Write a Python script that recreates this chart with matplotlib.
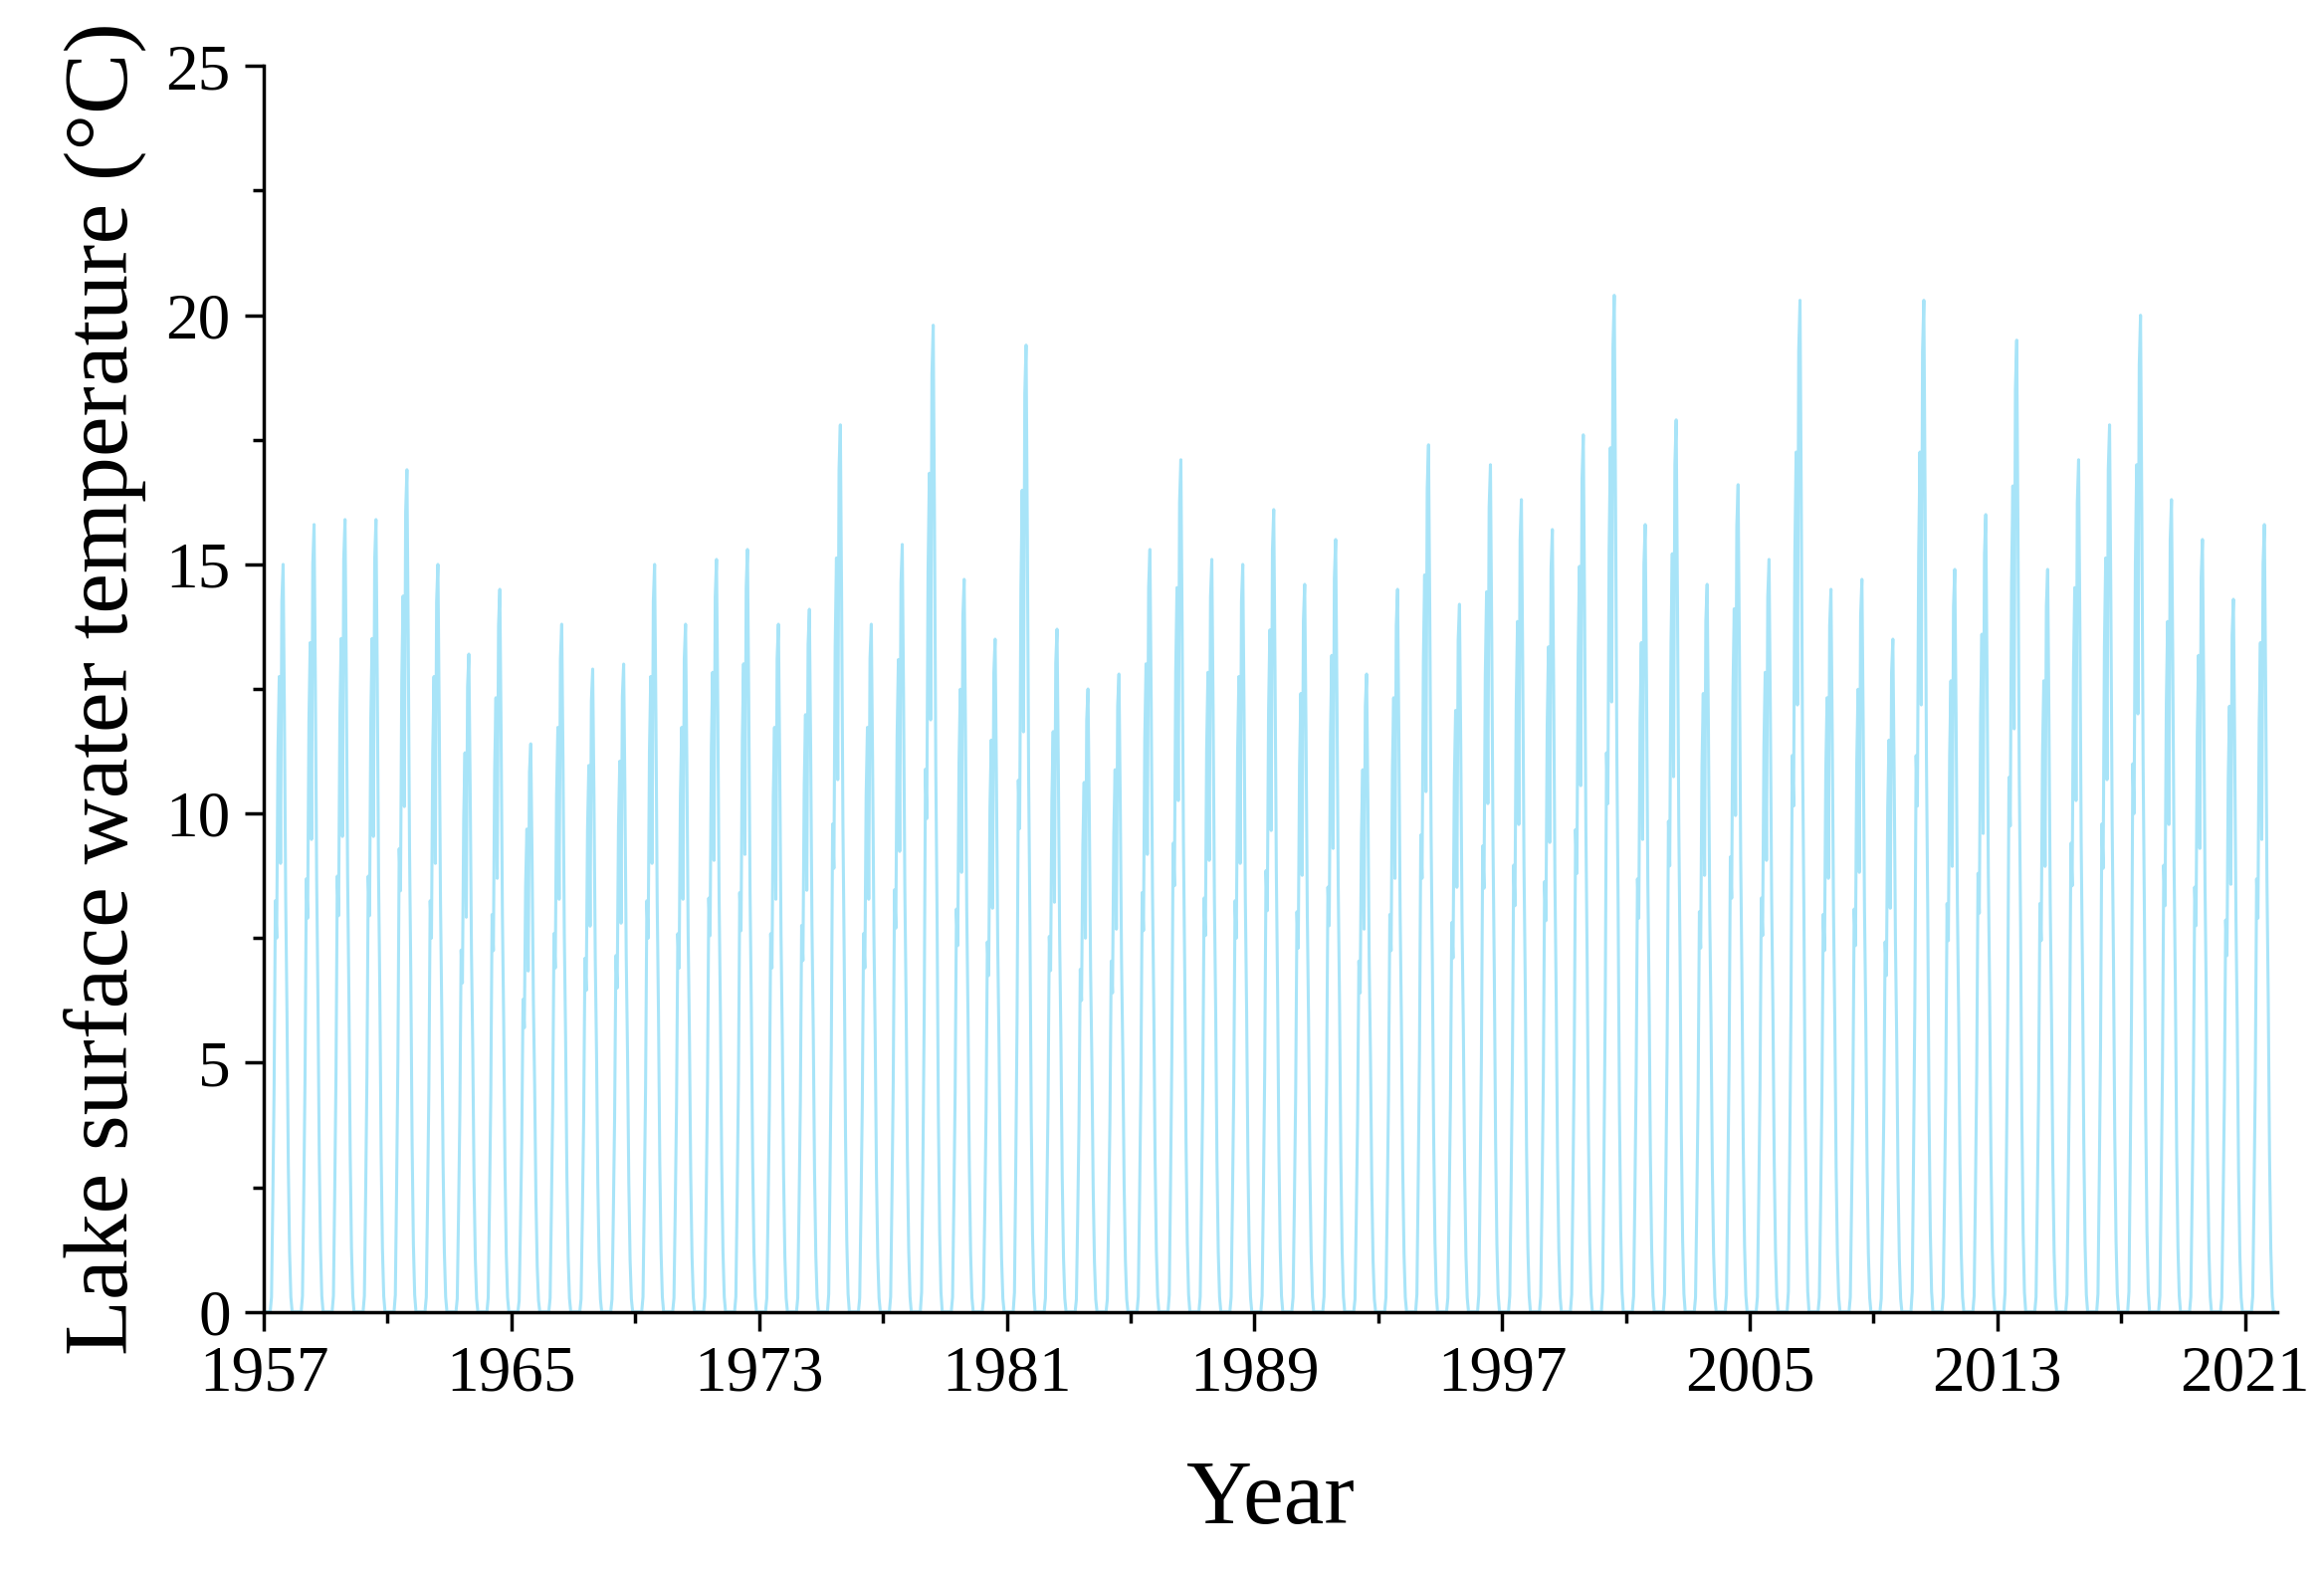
import matplotlib
matplotlib.use("Agg")
import matplotlib.pyplot as plt
from matplotlib.ticker import MultipleLocator, FixedLocator

years = list(range(1957, 2022))
annual_peak = [15.0, 15.8, 15.9, 15.9, 16.9, 15.0, 13.2, 14.5, 11.4, 13.8,
               12.9, 13.0, 15.0, 13.8, 15.1, 15.3, 13.8, 14.1, 17.8, 13.8,
               15.4, 19.8, 14.7, 13.5, 19.4, 13.7, 12.5, 12.8, 15.3, 17.1,
               15.1, 15.0, 16.1, 14.6, 15.5, 12.8, 14.5, 17.4, 14.2, 17.0,
               16.3, 15.7, 17.6, 20.4, 15.8, 17.9, 14.6, 16.6, 15.1, 20.3,
               14.5, 14.7, 13.5, 20.3, 14.9, 16.0, 19.5, 14.9, 17.1, 17.8,
               20.0, 16.3, 15.5, 14.3, 15.8]
# typical within-year fraction of the annual peak (twice-monthly samples)
season_shape = [0, 0, 0, 0, 0, 0, 0.02, 0.15, 0.3, 0.55, 0.5, 0.75,
                0.85, 0.6, 0.95, 1.0, 0.8, 0.55, 0.4, 0.2, 0.08, 0.02, 0, 0]

t, v = [], []
for y, p in zip(years, annual_peak):
    n = len(season_shape)
    for i, f in enumerate(season_shape):
        t.append(y + i / n)
        v.append(p * f)

plt.rcParams['font.family'] = ['Liberation Serif', 'DejaVu Serif']
fig = plt.figure(figsize=(23.35, 15.8), dpi=100)
ax = fig.add_axes([0.1135, 0.166, 0.8665, 0.792])
ax.plot(t, v, color='#a8e4f8', lw=2.2)
ax.set_xlim(1957, 2022.05)
ax.set_ylim(0, 25)
ax.set_xticks(list(range(1957, 2022, 8)))
ax.xaxis.set_minor_locator(FixedLocator(list(range(1961, 2022, 8))))
ax.yaxis.set_major_locator(MultipleLocator(5))
ax.yaxis.set_minor_locator(MultipleLocator(2.5))
for s in ['top', 'right']:
    ax.spines[s].set_visible(False)
for s in ['left', 'bottom']:
    ax.spines[s].set_linewidth(2.5)
ax.tick_params(which='major', direction='out', length=14, width=2.5, labelsize=47, pad=10)
ax.tick_params(which='minor', direction='out', length=8, width=2.5)
ax.set_xlabel('Year', fontsize=66, labelpad=40)
ax.set_ylabel('Lake surface water temperature (°C)', fontsize=66, labelpad=14)
fig.savefig('out.png', dpi=100)
